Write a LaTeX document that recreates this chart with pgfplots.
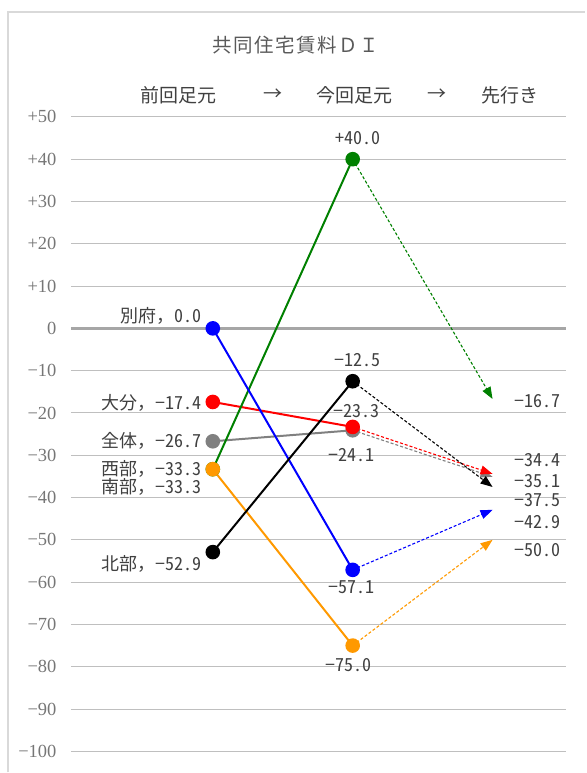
\documentclass[border=0pt]{standalone}
\usepackage{pgfplots}
\pgfplotsset{compat=1.18}
\usetikzlibrary{arrows.meta}
\usepackage{fontspec}
\setmainfont{Liberation Serif}
\newfontfamily\jp{Noto Sans CJK JP}
\newfontfamily\jptitle[LetterSpace=8]{Noto Sans CJK JP}
\newfontfamily\jpnum[RawFeature=+hwid]{Noto Sans CJK JP}

\definecolor{tickgray}{HTML}{767676}
\definecolor{gridgray}{HTML}{BFBFBF}
\definecolor{zerogray}{HTML}{A6A6A6}
\definecolor{framegray}{HTML}{D9D9D9}
\definecolor{titlegray}{HTML}{595959}
\definecolor{labelgray}{HTML}{404040}
\definecolor{grn}{HTML}{008000}
\definecolor{orng}{HTML}{FF9900}
\definecolor{midgray}{HTML}{808080}

% value labels
\newcommand{\vlab}[1]{{\jpnum #1}}
\newcommand{\nlab}[2]{{\jp #1，}{\jpnum #2}}

\tikzset{
  dlabel/.style={font=\fontsize{18}{20}\selectfont, text=labelgray,
    inner sep=0pt, text height=13.5pt, text depth=0.5pt},
}

\begin{document}
\begin{tikzpicture}[x=1pt,y=1pt]
\path (0,0) rectangle (585,773);
% chart area frame
\draw[framegray, line width=1.4pt] (8,0) -- (8,761) -- (586,761);

% title and column headings
\node[font=\jptitle\fontsize{19.5}{22}\selectfont, text=titlegray] at (296,728) {共同住宅賃料ＤＩ};
\begin{scope}[every node/.style={font=\jp\fontsize{19}{22}\selectfont, text=labelgray}]
  \node at (178.5,678) {前回足元};
  \node at (273,678) {→};
  \node at (355,678) {今回足元};
  \node at (437,678) {→};
  \node at (510,678) {先行き};
\end{scope}

\begin{axis}[
  at={(71pt,21pt)}, anchor=south west,
  scale only axis, width=496pt, height=635pt,
  xmin=-1.0143, xmax=2.5286, ymin=-100, ymax=50,
  axis line style={draw=none},
  xtick=\empty,
  ytick={-100,-90,...,50},
  yticklabels={−100,−90,−80,−70,−60,−50,−40,−30,−20,−10,0,+10,+20,+30,+40,+50},
  ymajorgrids,
  grid style={gridgray, line width=1pt},
  major tick length=0pt,
  yticklabel style={font=\fontsize{18.5}{20}\selectfont, text=tickgray, xshift=-11pt},
  extra y ticks={0}, extra y tick labels={},
  extra y tick style={grid style={zerogray, line width=2.3pt}},
  clip=false,
  solidline/.style={line width=2pt, mark=*, mark size=6.3pt},
  dashline/.style={line width=1.1pt, dash pattern=on 3pt off 2pt,
    -{Triangle[length=12pt,width=9pt]}},
]
% 全体
\addplot[midgray, solidline] coordinates {(0,-26.7) (1,-24.1)};
\addplot[midgray, dashline] coordinates {(1,-24.1) (2,-35.1)};
% 大分
\addplot[red, solidline] coordinates {(0,-17.4) (1,-23.3)};
\addplot[red, dashline] coordinates {(1,-23.3) (2,-34.4)};
% 西部
\addplot[grn, solidline] coordinates {(0,-33.3) (1,40.0)};
\addplot[grn, dashline] coordinates {(1,40.0) (2,-16.7)};
% 南部
\addplot[orng, solidline] coordinates {(0,-33.3) (1,-75.0)};
\addplot[orng, dashline] coordinates {(1,-75.0) (2,-50.0)};
% 別府
\addplot[blue, solidline] coordinates {(0,0.0) (1,-57.1)};
\addplot[blue, dashline] coordinates {(1,-57.1) (2,-42.9)};
% 北部
\addplot[black, solidline] coordinates {(0,-52.9) (1,-12.5)};
\addplot[black, dashline] coordinates {(1,-12.5) (2,-37.5)};

% labels at 前回足元
\node[dlabel, anchor=east, xshift=-11pt, yshift=12pt]    at (axis cs:0,0.0)   {\nlab{別府}{0.0}};
\node[dlabel, anchor=east, xshift=-11pt, yshift=-0.6pt]  at (axis cs:0,-17.4) {\nlab{大分}{−17.4}};
\node[dlabel, anchor=east, xshift=-11pt, yshift=0pt]     at (axis cs:0,-26.7) {\nlab{全体}{−26.7}};
\node[dlabel, anchor=east, xshift=-11pt, yshift=0.7pt]   at (axis cs:0,-33.3) {\nlab{西部}{−33.3}};
\node[dlabel, anchor=east, xshift=-11pt, yshift=-18.3pt] at (axis cs:0,-33.3) {\nlab{南部}{−33.3}};
\node[dlabel, anchor=east, xshift=-11pt, yshift=-12.4pt] at (axis cs:0,-52.9) {\nlab{北部}{−52.9}};

% labels at 今回足元
\node[dlabel, xshift=5pt,  yshift=21.5pt]  at (axis cs:1,40.0)  {\vlab{+40.0}};
\node[dlabel, xshift=5pt,  yshift=21.6pt]  at (axis cs:1,-12.5) {\vlab{−12.5}};
\node[dlabel, xshift=3.5pt,yshift=15.6pt]  at (axis cs:1,-23.3) {\vlab{−23.3}};
\node[dlabel, xshift=-1pt, yshift=-24.3pt] at (axis cs:1,-24.1) {\vlab{−24.1}};
\node[dlabel, xshift=-1pt, yshift=-17pt]   at (axis cs:1,-57.1) {\vlab{−57.1}};
\node[dlabel, xshift=-4pt, yshift=-19pt]   at (axis cs:1,-75.0) {\vlab{−75.0}};

% labels at 先行き
\node[dlabel, anchor=west, xshift=22pt, yshift=-2.3pt]  at (axis cs:2,-16.7) {\vlab{−16.7}};
\node[dlabel, anchor=west, xshift=22pt, yshift=14pt]    at (axis cs:2,-34.4) {\vlab{−34.4}};
\node[dlabel, anchor=west, xshift=22pt, yshift=-4.4pt]  at (axis cs:2,-35.1) {\vlab{−35.1}};
\node[dlabel, anchor=west, xshift=22pt, yshift=-12.6pt] at (axis cs:2,-37.5) {\vlab{−37.5}};
\node[dlabel, anchor=west, xshift=22pt, yshift=-12.7pt] at (axis cs:2,-42.9) {\vlab{−42.9}};
\node[dlabel, anchor=west, xshift=22pt, yshift=-9.7pt]  at (axis cs:2,-50.0) {\vlab{−50.0}};
\end{axis}
\end{tikzpicture}
\end{document}
